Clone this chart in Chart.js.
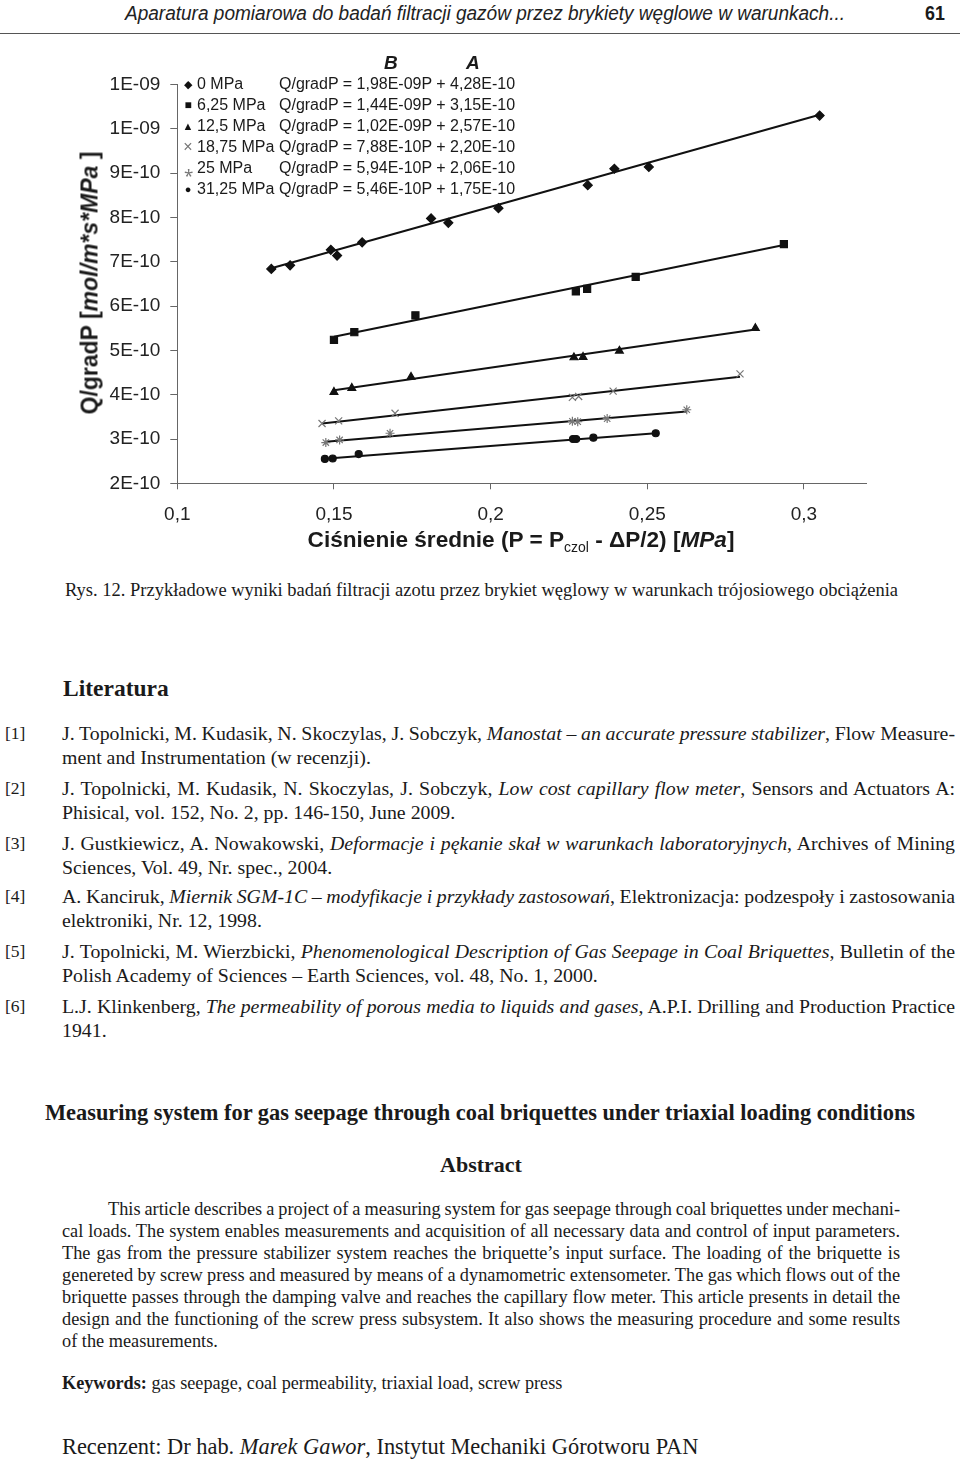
<!DOCTYPE html>
<html lang="pl">
<head>
<meta charset="utf-8">
<title>Rys. 12</title>
<script src="https://cdn.jsdelivr.net/npm/chart.js@4.4.0/dist/chart.umd.min.js"></script>
<style>
  body { margin: 0; background: #fff; }
  #page { position: relative; width: 960px; height: 1461px; overflow: hidden; color: #1a1a1a;
          font-family: "Liberation Serif", "Times New Roman", serif; }
  .abs { position: absolute; white-space: nowrap; }
  .jl { position: absolute; white-space: nowrap; }
  .sans { font-family: "Liberation Sans", Arial, sans-serif; }
  #chartBox { position: absolute; left: 0; top: 50px; width: 900px; height: 500px; }
  .leg { position: absolute; white-space: nowrap; font-family: "Liberation Sans", Arial, sans-serif; font-size: 16px; line-height: 20px; }
  .mk { position: absolute; width: 14px; text-align: center; }
</style>
</head>
<body>
<div id="page">
  <!-- page header -->
  <div class="abs" data-sx="720" style="left:125px; top:0px; transform-origin:0 0; font:italic 20px/26px 'Liberation Sans',sans-serif; color:#222;">Aparatura pomiarowa do badań filtracji gazów przez brykiety węglowe w warunkach...</div>
  <div class="abs" style="left:925px; top:0px; font:bold 21px/26px 'Liberation Sans',sans-serif; transform:scaleX(0.85); transform-origin:0 0;">61</div>
  <div style="position:absolute; left:0; top:33px; width:960px; height:1px; background:#555;"></div>

  <div id="chartBox"><canvas id="chart"></canvas></div>

  <!-- axis titles -->
  <div class="abs sans" style="left:90px; top:283px; transform:translate(-50%,-50%) rotate(-90deg); font-weight:bold; font-size:23px;">Q/gradP [<i>mol/m*s*MPa</i> ]</div>
  <div class="abs sans" style="left:521px; top:540px; transform:translate(-50%,-50%); font-weight:bold; font-size:22.6px;">Ciśnienie średnie (P = P<span style="font-size:14px; font-weight:normal; position:relative; top:5px;">czol</span> - ΔP/2) [<i>MPa</i>]</div>

  <!-- legend -->
  <div id="legend"></div>
  <div class="abs sans" style="left:384px; top:51px; font:italic bold 19px/24px 'Liberation Sans',Arial,sans-serif;">B</div>
  <div class="abs sans" style="left:466px; top:51px; font:italic bold 19px/24px 'Liberation Sans',Arial,sans-serif;">A</div>

  <div class="abs" data-sx="833" style="left:65px; top:578px; font-size:18.5px; line-height:24px; transform-origin:0 0;">Rys. 12. Przykładowe wyniki badań filtracji azotu przez brykiet węglowy w warunkach trójosiowego obciążenia</div>

  <div class="abs" style="left:63px; top:675px; font-size:23.5px; line-height:26px; font-weight:bold;">Literatura</div>

  <div id="refs"></div>

  <div class="abs" style="left:480px; top:1100px; transform:translateX(-50%); font-size:22.4px; line-height:26px; font-weight:bold;">Measuring system for gas seepage through coal briquettes under triaxial loading conditions</div>
  <div class="abs" style="left:481px; top:1152px; transform:translateX(-50%); font-size:22px; line-height:26px; font-weight:bold;">Abstract</div>

  <div id="abstract"></div>

  <div class="abs" style="left:62px; top:1372px; font-size:18.2px; line-height:22px;"><b>Keywords:</b> gas seepage, coal permeability, triaxial load, screw press</div>
  <div class="abs" style="left:62px; top:1433px; font-size:22.4px; line-height:28px;">Recenzent: Dr hab. <i>Marek Gawor</i>, Instytut Mechaniki Górotworu PAN</div>
</div>

<script>
// series labels (load)
const pressures = ['0 MPa', '6,25 MPa', '12,5 MPa', '18,75 MPa', '25 MPa', '31,25 MPa'];

// mean pressure P [MPa] and Q/gradP for each load
const p0  = [0.130, 0.136, 0.149, 0.151, 0.159, 0.181, 0.1865, 0.2025, 0.231, 0.2395, 0.2505, 0.305];
const q0  = [6.84e-10, 6.92e-10, 7.27e-10, 7.14e-10, 7.44e-10, 7.98e-10, 7.88e-10, 8.21e-10, 8.73e-10, 9.10e-10, 9.14e-10, 1.030e-9];
const p6  = [0.150, 0.1565, 0.176, 0.2272, 0.2308, 0.2463, 0.2936];
const q6  = [5.24e-10, 5.41e-10, 5.79e-10, 6.33e-10, 6.39e-10, 6.66e-10, 7.40e-10];
const p12 = [0.150, 0.1557, 0.1746, 0.2266, 0.2295, 0.2411, 0.2845];
const q12 = [4.06e-10, 4.15e-10, 4.40e-10, 4.84e-10, 4.85e-10, 4.99e-10, 5.50e-10];
const p18 = [0.1462, 0.1515, 0.1695, 0.2261, 0.2281, 0.2391, 0.2796];
const q18 = [3.35e-10, 3.41e-10, 3.58e-10, 3.94e-10, 3.96e-10, 4.08e-10, 4.47e-10];
const p25 = [0.1474, 0.1518, 0.1679, 0.2261, 0.2278, 0.2372, 0.2626];
const q25 = [2.92e-10, 2.98e-10, 3.13e-10, 3.40e-10, 3.39e-10, 3.46e-10, 3.66e-10];
const p31 = [0.1471, 0.1496, 0.1579, 0.2263, 0.2273, 0.2328, 0.2527];
const q31 = [2.55e-10, 2.56e-10, 2.66e-10, 3.00e-10, 3.00e-10, 3.03e-10, 3.13e-10];

// trend lines Q/gradP = B*P + A
const slopeB     = [1.98e-9, 1.44e-9, 1.02e-9, 7.88e-10, 5.94e-10, 5.46e-10];
const interceptA = [4.28e-10, 3.15e-10, 2.57e-10, 2.20e-10, 2.06e-10, 1.75e-10];

// axis ticks
const xTicks = [0.1, 0.15, 0.2, 0.25, 0.3];
const yTicks = [2e-10, 3e-10, 4e-10, 5e-10, 6e-10, 7e-10, 8e-10, 9e-10, 1e-9, 1.1e-9];

const pSeries = [p0, p6, p12, p18, p25, p31];
const qSeries = [q0, q6, q12, q18, q25, q31];

// marker styles
const markers = [
  { style: 'rectRot',  r: 4.5, color: '#111', glyph: '◆', gsize: 11 },
  { style: 'rect',     r: 5,   color: '#111', glyph: '■', gsize: 12 },
  { style: 'triangle', r: 4.5, color: '#111', glyph: '▲', gsize: 11 },
  { style: 'crossRot', r: 5,   color: '#777', glyph: '×', gsize: 16 },
  { style: 'star',     r: 4.5, color: '#777', glyph: '⁎', gsize: 17 },
  { style: 'circle',   r: 3.5, color: '#111', glyph: '●', gsize: 11 }
];

function sci(v, d) {
  const [m, e] = v.toExponential(d).split('e');
  const n = Number(e);
  return m.replace('.', ',') + 'E' + (n < 0 ? '-' : '+') + String(Math.abs(n)).padStart(2, '0');
}

const datasets = [];
pressures.forEach((name, i) => {
  const pts = pSeries[i].map((p, k) => ({ x: p, y: qSeries[i][k] }));
  datasets.push({
    label: name,
    data: pts,
    pointStyle: markers[i].style,
    pointRadius: markers[i].r,
    pointBackgroundColor: markers[i].color,
    pointBorderColor: markers[i].color,
    pointBorderWidth: 1.2,
    showLine: false
  });
  const pMin = Math.min(...pSeries[i]);
  const pMax = Math.max(...pSeries[i]);
  datasets.push({
    label: name + ' trend',
    data: [pMin, pMax].map(p => ({ x: p, y: slopeB[i] * p + interceptA[i] })),
    showLine: true,
    borderColor: '#111',
    borderWidth: 2,
    pointRadius: 0
  });
});

const tickFont = { family: "'Liberation Sans', Arial, sans-serif", size: 19 };

new Chart(document.getElementById('chart').getContext('2d'), {
  type: 'scatter',
  data: { datasets: datasets },
  options: {
    responsive: true,
    maintainAspectRatio: false,
    animation: false,
    layout: { padding: { top: 34.6, right: 33.4, left: 0, bottom: 0 } },
    plugins: { legend: { display: false }, tooltip: { enabled: false } },
    scales: {
      x: {
        type: 'linear',
        min: 0.1,
        max: 0.32,
        afterBuildTicks: s => { s.ticks = xTicks.map(v => ({ value: v })); },
        afterFit: s => { s.height = 66.7; },
        ticks: {
          color: '#222', font: tickFont, padding: 14, maxRotation: 0,
          callback: v => String(+v.toFixed(3)).replace('.', ',')
        },
        grid: { drawOnChartArea: false, tickLength: 6, color: '#666' },
        border: { color: '#666', width: 1 }
      },
      y: {
        type: 'linear',
        min: 2e-10,
        max: 1.1e-9,
        afterBuildTicks: s => { s.ticks = yTicks.map(v => ({ value: v })); },
        afterFit: s => { s.width = 177.3; },
        ticks: { color: '#222', font: tickFont, padding: 10, callback: v => sci(v, 0) },
        grid: { drawOnChartArea: false, tickLength: 7, color: '#666' },
        border: { color: '#666', width: 1 }
      }
    }
  }
});

// legend with equations
const legend = document.getElementById('legend');
pressures.forEach((name, i) => {
  const cy = 83.5 + i * 21.1;
  const mk = markers[i];
  legend.insertAdjacentHTML('beforeend',
    `<div class="leg" style="top:${cy - 10}px; left:181px; width:14px;"><span class="mk" style="left:0; color:${mk.color}; font-size:${mk.gsize}px;">${mk.glyph}</span></div>` +
    `<div class="leg" style="top:${cy - 10}px; left:197px;">${name}</div>` +
    `<div class="leg" style="top:${cy - 10}px; left:279px;">Q/gradP = ${sci(slopeB[i], 2)}P + ${sci(interceptA[i], 2)}</div>`);
});

// references, line by line
const refs = [
  ['[1]', ['J. Topolnicki, M. Kudasik, N. Skoczylas, J. Sobczyk, <i>Manostat – an accurate pressure stabilizer</i>, Flow Measure-',
           'ment and Instrumentation (w recenzji).']],
  ['[2]', ['J. Topolnicki, M. Kudasik, N. Skoczylas, J. Sobczyk, <i>Low cost capillary flow meter</i>, Sensors and Actuators A:',
           'Phisical, vol. 152, No. 2, pp. 146-150, June 2009.']],
  ['[3]', ['J. Gustkiewicz, A. Nowakowski, <i>Deformacje i pękanie skał w warunkach laboratoryjnych</i>, Archives of Mining',
           'Sciences, Vol. 49, Nr. spec., 2004.']],
  ['[4]', ['A. Kanciruk, <i>Miernik SGM-1C – modyfikacje i przykłady zastosowań</i>, Elektronizacja: podzespoły i zastosowania',
           'elektroniki, Nr. 12, 1998.']],
  ['[5]', ['J. Topolnicki, M. Wierzbicki, <i>Phenomenological Description of Gas Seepage in Coal Briquettes</i>, Bulletin of the',
           'Polish Academy of Sciences – Earth Sciences, vol. 48, No. 1, 2000.']],
  ['[6]', ['L.J. Klinkenberg, <i>The permeability of porous media to liquids and gases</i>, A.P.I. Drilling and Production Practice',
           '1941.']]
];
const refTops = [721, 776, 831, 884, 939, 994];
const refBox = document.getElementById('refs');
refs.forEach((r, i) => {
  const t = refTops[i];
  refBox.insertAdjacentHTML('beforeend', `<div class="abs" style="left:5px; top:${t}px; font-size:17.5px; line-height:24px;">${r[0]}</div>`);
  r[1].forEach((line, k) => {
    const last = k === r[1].length - 1;
    refBox.insertAdjacentHTML('beforeend',
      `<div class="jl" data-w="${last ? 0 : 893}" style="left:62px; top:${t + k * 24}px; line-height:24px;">${line}</div>`);
  });
});

// abstract lines
const absLines = [
  'This article describes a project of a measuring system for gas seepage through coal briquettes under mechani-',
  'cal loads. The system enables measurements and acquisition of all necessary data and control of input parameters.',
  'The gas from the pressure stabilizer system reaches the briquette’s input surface. The loading of the briquette is',
  'genereted by screw press and measured by means of a dynamometric extensometer. The gas which flows out of the',
  'briquette passes through the damping valve and reaches the capillary flow meter. This article presents in detail the',
  'design and the functioning of the screw press subsystem. It also shows the measuring procedure and some results',
  'of the measurements.'
];
const absBox = document.getElementById('abstract');
absLines.forEach((line, k) => {
  const left = k === 0 ? 108 : 62;
  const w = k === absLines.length - 1 ? 0 : 900 - left;
  absBox.insertAdjacentHTML('beforeend',
    `<div class="jl" data-w="${w}" style="left:${left}px; top:${1198 + k * 22}px; line-height:22px;">${line}</div>`);
});

// pick one font size per block so full lines fit naturally, then justify by word spacing
function naturalWidth(el) {
  if (!el.firstChild || el.firstChild.nodeName !== 'SPAN' || el.childNodes.length !== 1) {
    el.innerHTML = `<span>${el.innerHTML}</span>`;
  }
  return el.firstChild.getBoundingClientRect().width;
}
function fitBlock(box, base) {
  const lines = [...box.querySelectorAll('.jl')];
  lines.forEach(el => { el.style.fontSize = base + 'px'; });
  const ratios = lines.filter(el => +el.dataset.w).map(el => +el.dataset.w / naturalWidth(el)).sort((a, b) => a - b);
  const size = base * ratios[Math.floor(ratios.length / 2)] * 0.995;
  lines.forEach(el => {
    el.style.fontSize = size + 'px';
    const target = +el.dataset.w;
    if (!target) return;
    const spaces = (el.textContent.match(/ /g) || []).length;
    if (spaces) el.style.wordSpacing = ((target - naturalWidth(el)) / spaces) + 'px';
  });
}
fitBlock(refBox, 17.5);
fitBlock(absBox, 16);

// squeeze header and caption to the printed width
document.querySelectorAll('[data-sx]').forEach(el => {
  const w = el.getBoundingClientRect().width;
  el.style.transform = `scaleX(${+el.dataset.sx / w})`;
});
</script>
</body>
</html>
